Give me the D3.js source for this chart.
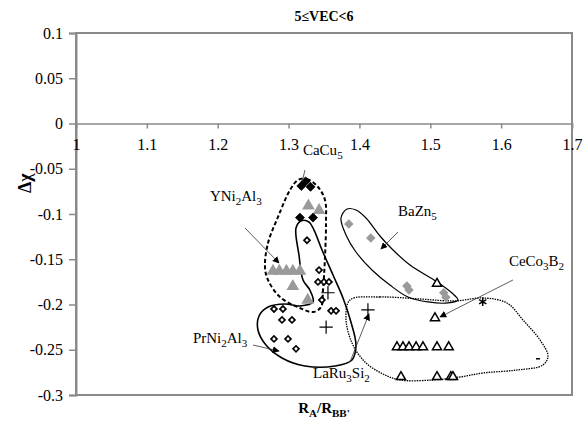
<!DOCTYPE html>
<html>
<head>
<meta charset="utf-8">
<script src="https://cdn.jsdelivr.net/npm/d3@7"></script>
<style>
  body { margin: 0; background: #fff; }
</style>
</head>
<body>
<svg id="chart" width="587" height="423"></svg>
<script>
// Data

const xTicks = [1, 1.1, 1.2, 1.3, 1.4, 1.5, 1.6, 1.7];
const xTickLabels = ["1", "1.1", "1.2", "1.3", "1.4", "1.5", "1.6", "1.7"];
const yTicks = [0.1, 0.05, 0, -0.05, -0.1, -0.15, -0.2, -0.25, -0.3];
const yTickLabels = ["0.1", "0.05", "0", "-0.05", "-0.1", "-0.15", "-0.2", "-0.25", "-0.3"];

// CaCu5 type (black filled)
const blackDiamonds = [[1.318, -0.069], [1.324, -0.064], [1.331, -0.070], [1.316, -0.104], [1.3345, -0.104]];
// YNi2Al3 type (grey triangles)
const greyTriangles = [[1.328, -0.091], [1.343, -0.096], [1.278, -0.163], [1.287, -0.163], [1.297, -0.163],
                       [1.306, -0.163], [1.316, -0.163], [1.306, -0.180], [1.327, -0.195]];
// PrNi2Al3 type (open diamonds)
const openDiamonds = [[1.326, -0.129], [1.343, -0.162], [1.3415, -0.175], [1.350, -0.175], [1.357, -0.175],
                      [1.347, -0.195], [1.360, -0.207], [1.367, -0.207], [1.2794, -0.205], [1.292, -0.205],
                      [1.2907, -0.217], [1.3048, -0.217], [1.2794, -0.238], [1.2992, -0.238], [1.3105, -0.249]];
// LaRu3Si2 type (plus)
const plusPoints = [[1.3556, -0.187], [1.353, -0.225], [1.412, -0.206]];
// BaZn5 type (grey diamonds)
const greyDiamonds = [[1.385, -0.111], [1.416, -0.1265], [1.467, -0.1796], [1.470, -0.184], [1.519, -0.187], [1.522, -0.192]];
// CeCo3B2 type (open triangles)
const openTriangles = [[1.5095, -0.177], [1.5066, -0.215], [1.453, -0.247], [1.4615, -0.247], [1.470, -0.247],
                       [1.480, -0.247], [1.4897, -0.247], [1.5095, -0.247], [1.526, -0.247],
                       [1.4586, -0.280], [1.5095, -0.280], [1.529, -0.280], [1.532, -0.280]];
const starPoints = [[1.574, -0.197]];
const dashPoints = [[1.652, -0.260]];

// hand drawn outlines (data units)
const dashedOutline = [[1.3133, -0.0624], [1.326, -0.0613], [1.3415, -0.0702], [1.3514, -0.0845], [1.3528, -0.110],
  [1.3514, -0.1475], [1.3486, -0.184], [1.3458, -0.2028], [1.3345, -0.2083], [1.3161, -0.2039], [1.2879, -0.1917],
  [1.271, -0.1729], [1.2667, -0.1586], [1.271, -0.132], [1.2851, -0.1033], [1.302, -0.0735]];
const prOutline = [[1.3105, -0.1155], [1.3175, -0.1077], [1.3288, -0.1088], [1.3359, -0.1177], [1.3472, -0.1398],
  [1.3627, -0.1674], [1.3768, -0.1928], [1.388, -0.2193], [1.3951, -0.2448], [1.3895, -0.2613], [1.3655, -0.268],
  [1.3232, -0.268], [1.2907, -0.2591], [1.2681, -0.2448], [1.2568, -0.2282], [1.2583, -0.2127], [1.271, -0.2028],
  [1.295, -0.1994], [1.3161, -0.2017], [1.3345, -0.1972], [1.330, -0.184], [1.3204, -0.1729], [1.3147, -0.1453]];
const baOutline = [[1.374, -0.1044], [1.3825, -0.0945], [1.3951, -0.0956], [1.4093, -0.1044], [1.429, -0.1243],
  [1.446, -0.1387], [1.4714, -0.1564], [1.5095, -0.1751], [1.5306, -0.1873], [1.539, -0.195], [1.525, -0.1983],
  [1.4968, -0.1972], [1.4685, -0.1917], [1.443, -0.1785], [1.4177, -0.1619], [1.3951, -0.142], [1.381, -0.1232]];
const ceOutline = [[1.3867, -0.195], [1.429, -0.1917], [1.4855, -0.1939], [1.5349, -0.1961], [1.5744, -0.1928],
  [1.6082, -0.1983], [1.6308, -0.2171], [1.6548, -0.2392], [1.6661, -0.2569], [1.659, -0.2669], [1.6223, -0.2724],
  [1.5744, -0.2757], [1.5419, -0.2801], [1.5038, -0.2834], [1.4572, -0.2834], [1.4332, -0.2768], [1.4078, -0.2635],
  [1.3895, -0.2425], [1.381, -0.2149]];

// compound labels and their arrows
const labels = [
  { parts: [["CaCu", 0], ["5", 1]], x: 1.3203, y: -0.0337 },
  { parts: [["YNi", 0], ["2", 1], ["Al", 0], ["3", 1]], x: 1.189, y: -0.0845 },
  { parts: [["BaZn", 0], ["5", 1]], x: 1.4544, y: -0.1011 },
  { parts: [["CeCo", 0], ["3", 1], ["B", 0], ["2", 1]], x: 1.611, y: -0.1564 },
  { parts: [["PrNi", 0], ["2", 1], ["Al", 0], ["3", 1]], x: 1.165, y: -0.2414 },
  { parts: [["LaRu", 0], ["3", 1], ["Si", 0], ["2", 1]], x: 1.3345, y: -0.2801 }
];
const arrows = [
  { from: [1.3232, -0.0514], to: [1.319, -0.0646], head: false },
  { from: [1.2385, -0.1155], to: [1.2865, -0.1541], head: true },
  { from: [1.4544, -0.1199], to: [1.4304, -0.1387], head: true },
  { from: [1.6167, -0.1729], to: [1.5137, -0.2138], head: true },
  { from: [1.2498, -0.2448], to: [1.2865, -0.2514], head: true },
  { from: [1.3867, -0.2635], to: [1.4135, -0.2105], head: true }
];

// Layout
const margin = { top: 33, right: 15, bottom: 28, left: 76 };
const width = 587, height = 423;
const serif = "'Liberation Serif'";
const svg = d3.select("#chart");

const x = d3.scaleLinear().domain([1, 1.7]).range([margin.left, width - margin.right]);
const y = d3.scaleLinear().domain([-0.3, 0.1]).range([height - margin.bottom, margin.top]);

svg.append("defs").append("marker")
  .attr("id", "head")
  .attr("viewBox", "0 0 10 10")
  .attr("refX", 9).attr("refY", 5)
  .attr("markerWidth", 7).attr("markerHeight", 7)
  .attr("markerUnits", "userSpaceOnUse")
  .attr("orient", "auto")
  .append("path").attr("d", "M0,0L10,5L0,10z").attr("fill", "#000");

// frame
svg.append("rect")
  .attr("x", x(1)).attr("y", y(0.1))
  .attr("width", x(1.7) - x(1)).attr("height", y(-0.3) - y(0.1))
  .attr("fill", "none").attr("stroke", "#8a8a8a").attr("stroke-width", 2);

// y axis
const yAxis = svg.append("g")
  .attr("transform", `translate(${x(1)},0)`)
  .call(d3.axisLeft(y).tickValues(yTicks).tickSize(7).tickPadding(6)
    .tickFormat((d, i) => yTickLabels[i]));
yAxis.attr("font-family", null);
yAxis.select(".domain").attr("stroke", "#8a8a8a").attr("stroke-width", 2);
yAxis.selectAll(".tick line").attr("stroke", "#8a8a8a").attr("stroke-width", 1.5);
yAxis.selectAll(".tick text").attr("fill", "#000")
  .style("font-family", serif).style("font-size", "16px");

// x axis at y = 0
const xAxis = svg.append("g")
  .attr("transform", `translate(0,${y(0)})`)
  .call(d3.axisBottom(x).tickValues(xTicks).tickSize(5).tickPadding(10)
    .tickFormat((d, i) => xTickLabels[i]));
xAxis.attr("font-family", null);
xAxis.select(".domain").attr("stroke", "#8a8a8a").attr("stroke-width", 1.5);
xAxis.selectAll(".tick line").attr("stroke", "#8a8a8a").attr("stroke-width", 1.5);
xAxis.selectAll(".tick text").attr("fill", "#000")
  .style("font-family", serif).style("font-size", "16px");

// outlines
const closed = d3.line().x(d => x(d[0])).y(d => y(d[1])).curve(d3.curveCatmullRomClosed.alpha(0.5));
svg.append("path").attr("d", closed(dashedOutline))
  .attr("fill", "none").attr("stroke", "#000").attr("stroke-width", 2).attr("stroke-dasharray", "4,2.5");
svg.append("path").attr("d", closed(prOutline))
  .attr("fill", "none").attr("stroke", "#000").attr("stroke-width", 1.6);
svg.append("path").attr("d", closed(baOutline))
  .attr("fill", "none").attr("stroke", "#000").attr("stroke-width", 1.2);
svg.append("path").attr("d", closed(ceOutline))
  .attr("fill", "none").attr("stroke", "#000").attr("stroke-width", 1.3).attr("stroke-dasharray", "1.5,1");

// points (diamonds are squares turned 45 degrees)
function drawPoints(data, type, size, fill, stroke, sw, rot) {
  svg.append("g").selectAll("path").data(data).join("path")
    .attr("transform", d => `translate(${x(d[0])},${y(d[1])}) rotate(${rot || 0})`)
    .attr("d", d3.symbol().type(type).size(size))
    .attr("fill", fill).attr("stroke", stroke).attr("stroke-width", sw);
}
drawPoints(greyTriangles, d3.symbolTriangle, 70, "#9a9a9a", "none", 0);
drawPoints(greyDiamonds, d3.symbolSquare, 45, "#9a9a9a", "none", 0, 45);
drawPoints(blackDiamonds, d3.symbolSquare, 40, "#000", "#000", 0.8, 45);
drawPoints(openDiamonds, d3.symbolSquare, 18, "#fff", "#000", 1.7, 45);
drawPoints(openTriangles, d3.symbolTriangle, 36, "#fff", "#000", 1.5);
drawPoints(plusPoints, d3.symbolPlus, 60, "none", "#000", 1.2);
drawPoints(starPoints, d3.symbolAsterisk, 50, "none", "#000", 1.5);
svg.append("g").selectAll("line").data(dashPoints).join("line")
  .attr("x1", d => x(d[0]) - 2).attr("x2", d => x(d[0]) + 2)
  .attr("y1", d => y(d[1])).attr("y2", d => y(d[1]))
  .attr("stroke", "#000").attr("stroke-width", 1.5);

// arrows
svg.append("g").selectAll("line").data(arrows).join("line")
  .attr("x1", d => x(d.from[0])).attr("y1", d => y(d.from[1]))
  .attr("x2", d => x(d.to[0])).attr("y2", d => y(d.to[1]))
  .attr("stroke", "#333").attr("stroke-width", 0.8)
  .attr("marker-end", d => d.head ? "url(#head)" : null);

// labels
labels.forEach(function(lab) {
  const t = svg.append("text")
    .attr("x", x(lab.x)).attr("y", y(lab.y) + 5)
    .style("font-family", serif).style("font-size", "15px").attr("fill", "#000");
  lab.parts.forEach(function(p) {
    if (p[1]) {
      t.append("tspan").attr("dy", 4).style("font-size", "11px").text(p[0]);
    } else {
      t.append("tspan").attr("dy", t.selectAll("tspan").size() ? -4 : 0).text(p[0]);
    }
  });
});

// title and axis labels
svg.append("text").attr("x", (x(1) + x(1.7)) / 2).attr("y", 21)
  .attr("text-anchor", "middle").style("font-family", serif).style("font-size", "14px")
  .style("font-weight", "bold")
  .text("5≤VEC<6");

svg.append("text")
  .attr("transform", `translate(31,${y(-0.066)}) rotate(-90)`)
  .attr("text-anchor", "middle").style("font-family", serif).style("font-size", "18px")
  .style("font-weight", "bold")
  .text("Δχ");

const xl = svg.append("text").attr("x", (x(1) + x(1.7)) / 2).attr("y", 413)
  .attr("text-anchor", "middle").style("font-family", serif).style("font-size", "15px")
  .style("font-weight", "bold");
xl.append("tspan").text("R");
xl.append("tspan").attr("dy", 4).style("font-size", "11px").text("A");
xl.append("tspan").attr("dy", -4).text("/R");
xl.append("tspan").attr("dy", 4).style("font-size", "11px").text("BB'");
</script>
</body>
</html>
